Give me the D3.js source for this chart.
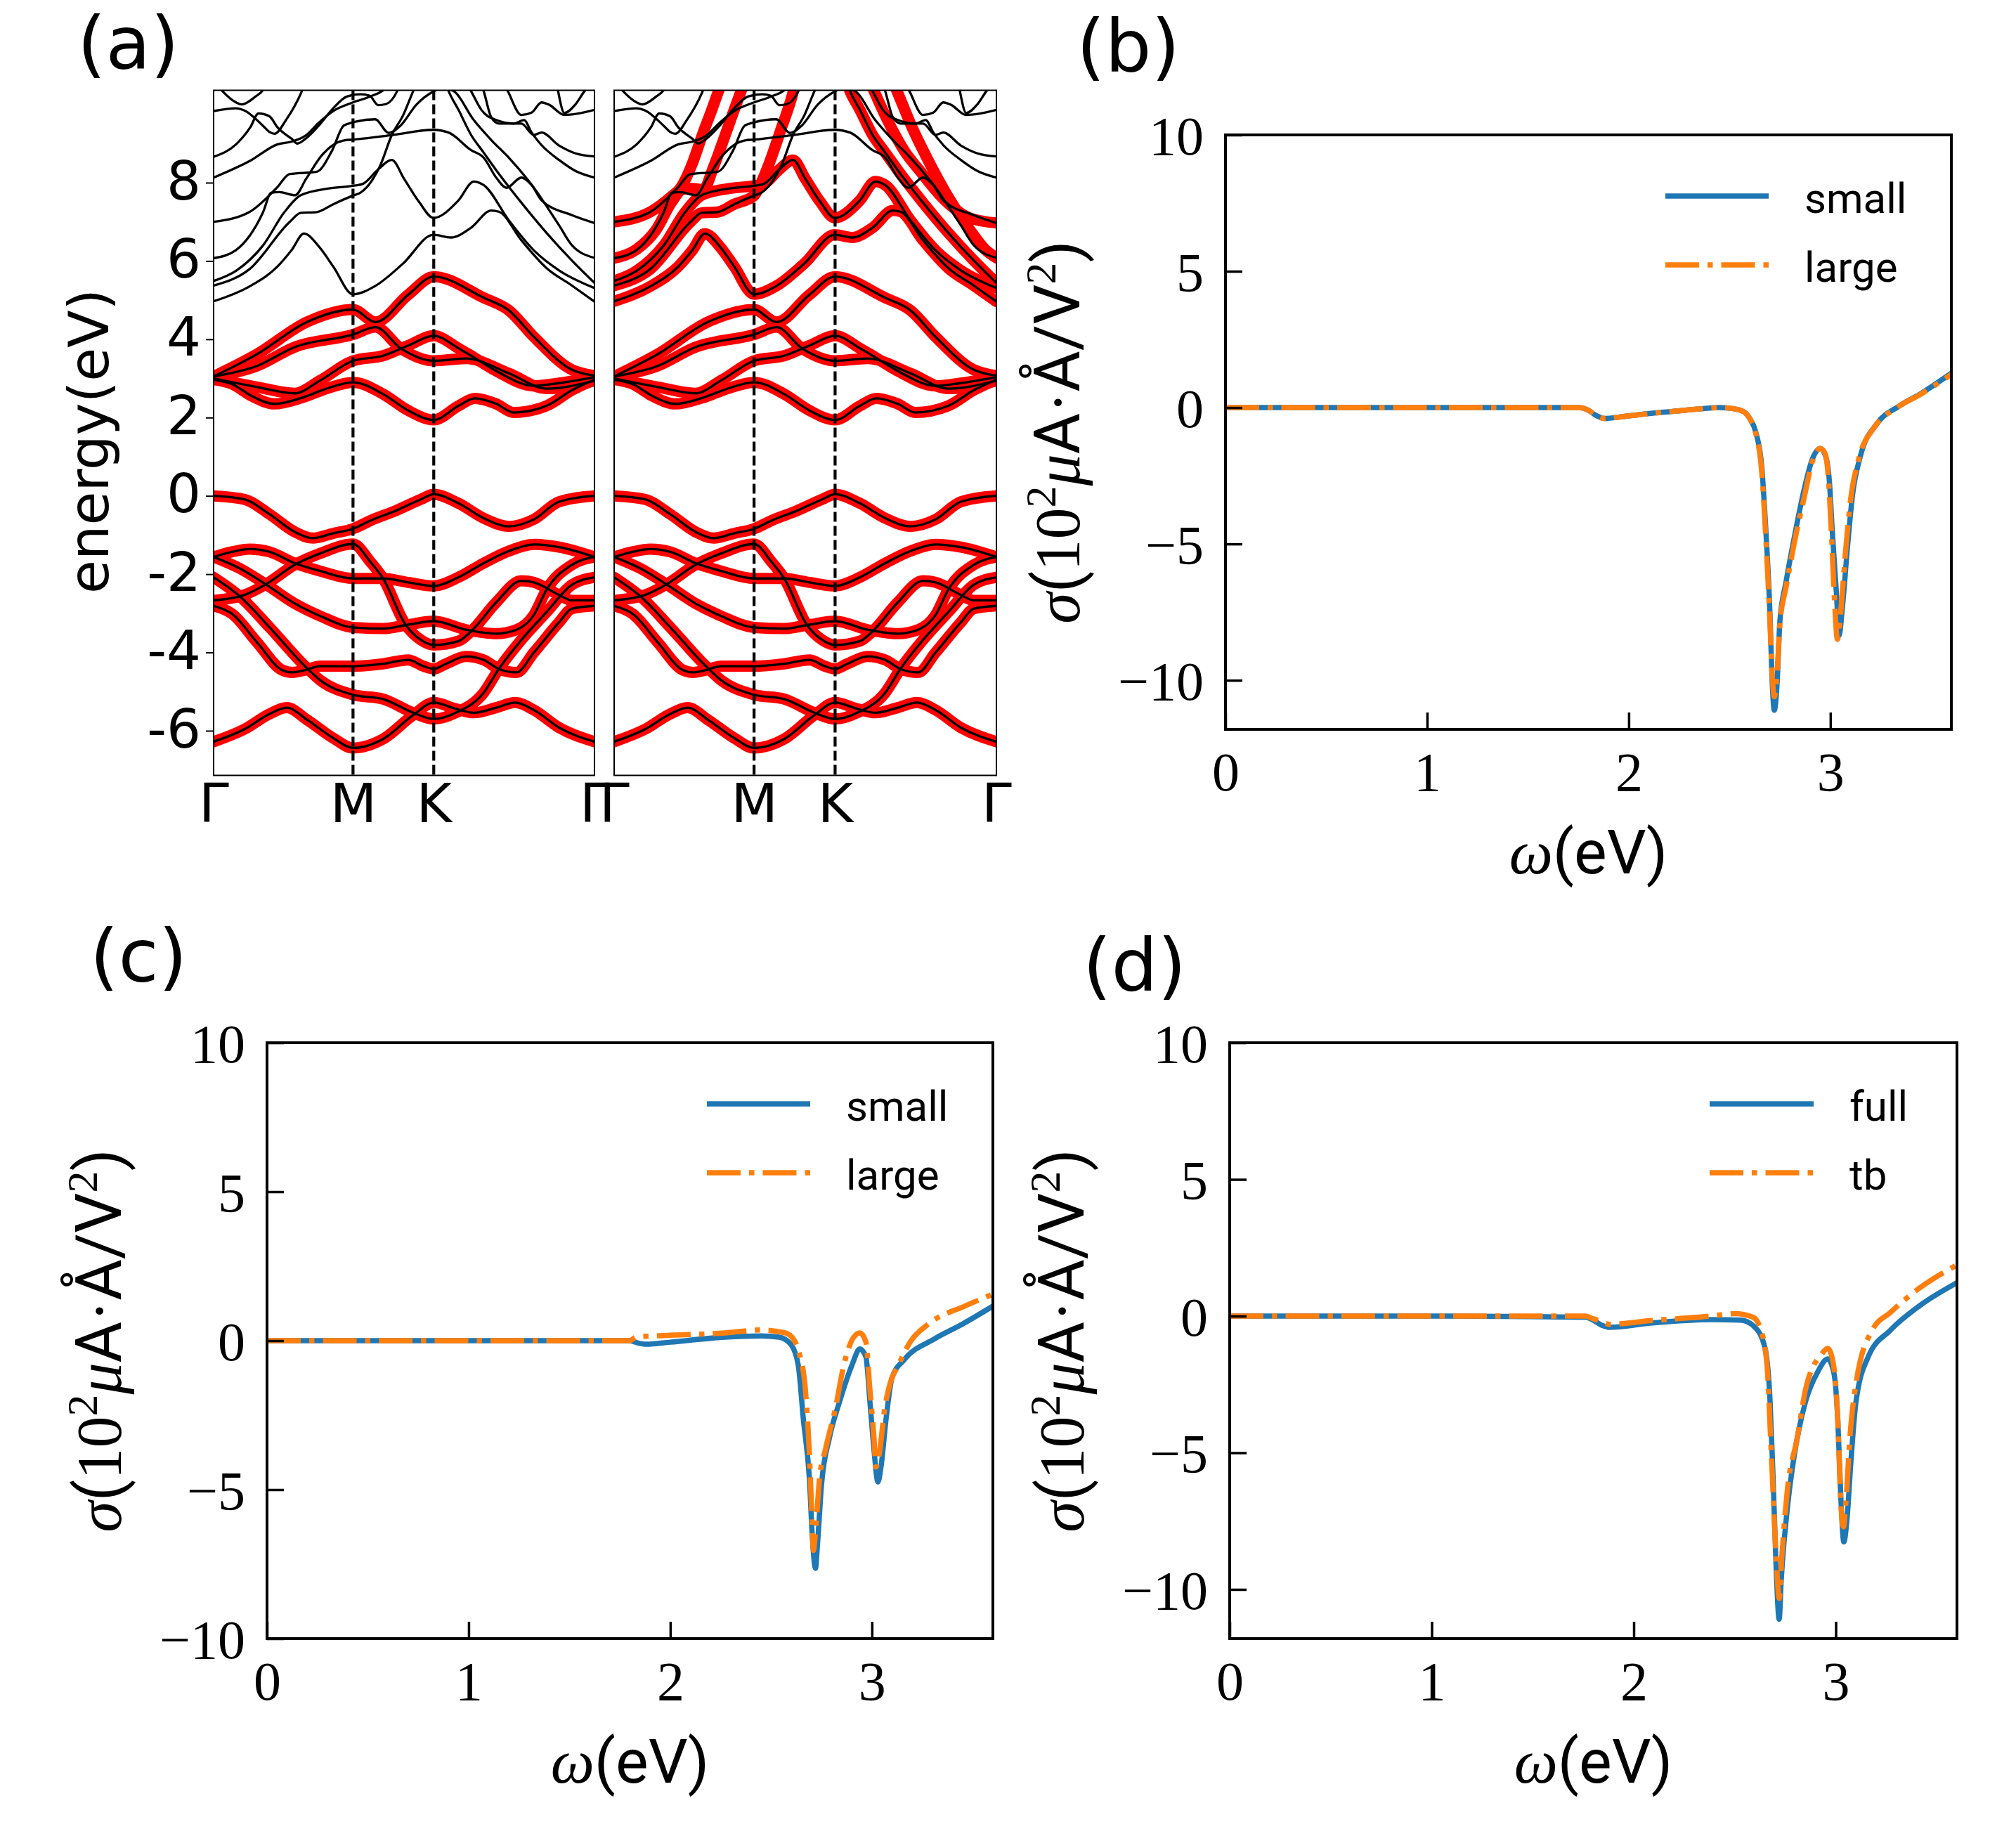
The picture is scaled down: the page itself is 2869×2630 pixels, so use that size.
<!DOCTYPE html>
<html><head><meta charset="utf-8">
<script src="https://cdn.jsdelivr.net/npm/d3@7"></script>
<style>body{margin:0;background:#fff}</style></head>
<body><svg id="c" width="2869" height="2630"></svg>
<script>
// ---------------- DATA ----------------
const kTicks=[0,0.366,0.578,1];
const kLabels=["Γ","M","K","Γ"];
const eTicks=[-6,-4,-2,0,2,4,6,8];
const eRange=[-7.14,10.36];

// valence bands (red + black)
const V1=[[0,0],[0.081,-0.09],[0.147,-0.47],[0.213,-0.92],[0.26,-1.08],[0.313,-0.96],[0.366,-0.84],[0.412,-0.63],[0.478,-0.38],[0.544,-0.09],[0.578,0.04],[0.643,-0.19],[0.709,-0.57],[0.775,-0.78],[0.841,-0.6],[0.907,-0.15],[1,0]];
const V2=[[0,-1.56],[0.048,-1.43],[0.095,-1.36],[0.147,-1.43],[0.213,-1.72],[0.28,-1.92],[0.366,-2.11],[0.445,-2.11],[0.511,-2.21],[0.578,-2.30],[0.643,-2.08],[0.709,-1.72],[0.775,-1.41],[0.841,-1.24],[0.907,-1.31],[1,-1.56]];
const V3=[[0,-2.67],[0.081,-2.53],[0.137,-2.26],[0.213,-1.76],[0.28,-1.47],[0.366,-1.23],[0.412,-1.69],[0.445,-2.11],[0.504,-3.29],[0.544,-3.68],[0.578,-3.81],[0.643,-3.71],[0.676,-3.46],[0.742,-2.72],[0.808,-2.17],[0.841,-2.21],[0.907,-2.53],[0.941,-2.67],[1,-2.67]];
const V4=[[0,-1.56],[0.068,-1.85],[0.137,-2.26],[0.213,-2.75],[0.28,-3.07],[0.366,-3.36],[0.445,-3.39],[0.511,-3.29],[0.578,-3.20],[0.663,-3.42],[0.742,-3.52],[0.795,-3.42],[0.841,-3.04],[0.874,-2.40],[0.941,-1.76],[1,-1.56]];
const V5=[[0,-2.81],[0.048,-3.01],[0.114,-3.74],[0.180,-4.45],[0.207,-4.51],[0.240,-4.45],[0.280,-4.35],[0.366,-4.35],[0.445,-4.29],[0.511,-4.19],[0.551,-4.35],[0.578,-4.42],[0.610,-4.29],[0.663,-4.10],[0.709,-4.19],[0.749,-4.42],[0.795,-4.51],[0.841,-4.0],[0.907,-3.23],[0.941,-2.88],[1,-2.81]];
const V6=[[0,-2.08],[0.068,-2.56],[0.147,-3.36],[0.240,-4.35],[0.280,-4.71],[0.366,-5.08],[0.445,-5.19],[0.524,-5.54],[0.578,-5.70],[0.636,-5.54],[0.709,-5.03],[0.749,-4.42],[0.808,-3.68],[0.874,-2.97],[0.941,-2.27],[1,-2.08]];
const V7=[[0,-6.28],[0.081,-5.96],[0.147,-5.57],[0.192,-5.41],[0.247,-5.73],[0.313,-6.18],[0.366,-6.44],[0.445,-6.21],[0.524,-5.60],[0.578,-5.28],[0.636,-5.44],[0.683,-5.54],[0.742,-5.41],[0.792,-5.28],[0.841,-5.47],[0.907,-5.92],[1,-6.28]];
// low conduction bands (red + black)
const C1=[[0,2.97],[0.05,2.85],[0.10,2.55],[0.16,2.35],[0.23,2.50],[0.30,2.75],[0.366,2.90],[0.445,2.60],[0.511,2.18],[0.578,1.94],[0.643,2.30],[0.686,2.49],[0.742,2.35],[0.788,2.13],[0.874,2.30],[0.941,2.70],[1,2.97]];
const C2=[[0,3.0],[0.114,2.78],[0.213,2.62],[0.280,2.95],[0.366,3.45],[0.445,3.58],[0.511,3.84],[0.578,4.09],[0.643,3.77],[0.676,3.58],[0.742,3.19],[0.841,2.81],[0.907,2.88],[1,3.03]];
const C3=[[0,3.05],[0.114,3.32],[0.213,3.80],[0.366,4.12],[0.425,4.31],[0.491,3.77],[0.578,3.45],[0.663,3.51],[0.775,3.13],[0.874,2.74],[1,2.94]];
const C4=[[0,3.05],[0.114,3.62],[0.247,4.45],[0.366,4.76],[0.425,4.44],[0.511,5.14],[0.578,5.60],[0.709,5.06],[0.775,4.74],[0.841,4.06],[0.941,3.22],[1,3.07]];
// higher bands of the full calculation (black only)
const D1=[[0,4.97],[0.096,5.36],[0.168,5.86],[0.205,6.28],[0.237,6.70],[0.278,6.35],[0.314,5.86],[0.366,5.15],[0.424,5.36],[0.497,5.93],[0.577,6.67],[0.623,6.60],[0.676,6.85],[0.729,7.29],[0.749,7.26],[0.808,6.53],[0.874,5.82],[0.941,5.37],[1,4.96]];
const D2=[[0,5.37],[0.094,5.79],[0.2,7.0],[0.229,7.23],[0.271,7.25],[0.314,7.45],[0.366,7.67],[0.385,7.74],[0.438,8.45],[0.468,9.22],[0.498,9.73],[0.524,10.34],[0.545,10.8],[0.60,10.8],[0.617,10.34],[0.643,9.86],[0.676,9.22],[0.709,8.77],[0.742,8.32],[0.808,7.49],[0.874,6.72],[0.941,6.01],[1,5.44]];
const D3=[[0,5.49],[0.059,5.75],[0.13,6.4],[0.186,7.25],[0.229,7.68],[0.30,7.85],[0.366,7.92],[0.392,7.97],[0.43,8.32],[0.468,8.58],[0.50,8.1],[0.54,7.5],[0.577,7.1],[0.643,7.55],[0.683,8.03],[0.709,7.94],[0.775,7.04],[0.841,6.27],[0.907,5.76],[1,5.31]];
const D4=[[0,6.07],[0.059,6.28],[0.13,7.25],[0.151,7.74],[0.172,7.76],[0.214,7.68],[0.243,8.1],[0.285,8.71],[0.342,9.08],[0.366,9.1],[0.47,9.22],[0.577,9.35],[0.617,9.28],[0.676,8.83],[0.709,8.64],[0.742,8.13],[0.769,7.87],[0.808,8.13],[0.835,7.94],[0.861,7.55],[0.941,7.17],[1,6.97]];
const D5=[[0,7.0],[0.094,7.25],[0.165,7.86],[0.2,8.22],[0.271,8.28],[0.31,8.8],[0.342,9.46],[0.366,9.54],[0.424,9.62],[0.46,9.27],[0.49,9.45],[0.533,10.0],[0.577,10.33],[0.60,10.42],[0.630,10.34],[0.683,9.60],[0.729,9.09],[0.775,8.64],[0.841,7.87],[0.907,6.91],[0.941,6.40],[1,6.08]];
const D6=[[0,8.13],[0.096,8.56],[0.168,8.98],[0.205,9.05],[0.241,9.2],[0.278,9.55],[0.314,9.83],[0.366,10.05],[0.41,10.2],[0.45,10.4],[0.48,10.8],[0.65,10.8],[0.676,10.34],[0.703,9.86],[0.742,9.60],[0.788,9.51],[0.815,9.60],[0.835,9.28],[0.861,8.96],[0.907,8.58],[0.95,8.3],[1,8.13]];
const D7=[[0,8.66],[0.059,8.98],[0.096,9.41],[0.118,9.77],[0.146,9.70],[0.168,9.41],[0.205,9.12],[0.22,9.0],[0.241,9.12],[0.278,9.48],[0.314,9.90],[0.35,10.2],[0.387,10.26],[0.41,10.22],[0.432,9.98],[0.453,10.01],[0.482,10.34],[0.50,10.8],[0.69,10.8],[0.709,10.34],[0.729,9.67],[0.749,9.51],[0.808,9.51],[0.841,9.22],[0.861,9.28],[0.907,8.95],[0.95,8.75],[1,8.67]];
const D8=[[0,9.83],[0.059,9.9],[0.08,9.85],[0.13,9.45],[0.146,9.3],[0.16,9.25],[0.19,9.6],[0.23,10.3],[0.25,10.8],[0.74,10.8],[0.769,10.4],[0.808,9.73],[0.835,9.79],[0.861,10.05],[0.881,9.99],[0.921,9.73],[1,9.86]];
const D9=[[0,10.6],[0.02,10.37],[0.059,10.05],[0.074,10.0],[0.11,10.2],[0.13,10.37],[0.15,10.8],[0.89,10.8],[0.921,9.78],[0.95,10.0],[0.974,10.34],[1,10.6]];
// extra bands of the large model (red only, right sub-panel)
const R1=[[0,7.0],[0.094,7.25],[0.15,7.65],[0.174,7.87],[0.205,8.5],[0.23,9.2],[0.255,9.85],[0.273,10.34],[0.29,10.8]];
const R2=[[0,6.07],[0.059,6.3],[0.11,6.8],[0.15,7.5],[0.18,7.83],[0.205,7.85],[0.233,7.82],[0.26,8.4],[0.29,9.2],[0.31,9.75],[0.332,10.34],[0.35,10.8]];
const R3=[[0,5.37],[0.094,5.79],[0.2,7.0],[0.229,7.23],[0.271,7.25],[0.314,7.45],[0.366,7.67],[0.38,7.9],[0.404,8.45],[0.436,9.35],[0.469,10.34],[0.48,10.8]];
const R4=[[0.60,10.8],[0.617,10.34],[0.643,9.86],[0.676,9.22],[0.709,8.77],[0.742,8.32],[0.808,7.49],[0.874,6.72],[0.941,6.01],[1,5.44]];
const R5=[[0.66,10.8],[0.68,10.34],[0.72,9.5],[0.76,8.8],[0.80,8.3],[0.86,7.6],[0.93,7.1],[1,6.97]];
const R6=[[0.72,10.8],[0.74,10.34],[0.78,9.4],[0.82,8.6],[0.87,7.7],[0.93,6.8],[0.97,6.3],[1,6.08]];

// conductivity spectra  [omega (eV), sigma]
const omegaRange=[0,3.6];
const sigXTicks=[0,1,2,3];
const sigYTicks=[-10,-5,0,5,10];
const bSmall=[[0,0],[0.5,0],[1.0,0],[1.5,0],[1.75,0],[1.8,-0.1],[1.84,-0.3],[1.88,-0.4],[1.95,-0.35],[2.05,-0.26],[2.2,-0.15],[2.35,-0.05],[2.45,0],[2.52,-0.04],[2.57,-0.15],[2.6,-0.4],[2.63,-0.9],[2.66,-2.2],[2.68,-4.5],[2.70,-7.5],[2.71,-9.8],[2.722,-11.1],[2.735,-10.2],[2.75,-7.8],[2.78,-6.4],[2.82,-4.8],[2.87,-3.0],[2.91,-1.9],[2.95,-1.5],[2.975,-1.75],[2.995,-2.7],[3.01,-4.6],[3.03,-6.8],[3.043,-8.35],[3.06,-7.3],[3.085,-5.1],[3.11,-3.2],[3.15,-1.75],[3.23,-0.6],[3.34,0.05],[3.45,0.52],[3.6,1.26]];
const bLarge=[[0,0],[0.5,0],[1.0,0],[1.5,0],[1.75,0],[1.8,-0.1],[1.84,-0.3],[1.88,-0.4],[1.95,-0.35],[2.05,-0.26],[2.2,-0.15],[2.35,-0.05],[2.45,0],[2.52,-0.04],[2.57,-0.15],[2.6,-0.4],[2.63,-0.95],[2.66,-2.4],[2.68,-4.8],[2.70,-7.8],[2.712,-9.9],[2.722,-10.6],[2.735,-9.8],[2.75,-7.9],[2.78,-6.6],[2.82,-5.0],[2.87,-3.3],[2.91,-2.0],[2.95,-1.5],[2.975,-1.7],[2.99,-2.6],[3.005,-4.6],[3.02,-7.0],[3.035,-8.5],[3.05,-7.6],[3.075,-5.3],[3.10,-3.4],[3.14,-1.9],[3.22,-0.7],[3.33,0.0],[3.45,0.5],[3.6,1.22]];
const cSmall=[[0,0],[1.0,0],[1.5,0],[1.8,0],[1.84,-0.08],[1.88,-0.12],[2.0,-0.05],[2.27,0.12],[2.45,0.16],[2.54,0.12],[2.6,-0.14],[2.635,-0.84],[2.66,-2.64],[2.69,-4.64],[2.705,-6.64],[2.72,-7.64],[2.73,-6.84],[2.75,-4.84],[2.79,-3.24],[2.84,-2.04],[2.90,-0.84],[2.94,-0.28],[2.97,-0.54],[2.99,-2.04],[3.01,-3.64],[3.03,-4.74],[3.045,-4.24],[3.07,-2.64],[3.10,-1.24],[3.16,-0.64],[3.31,0.06],[3.45,0.56],[3.6,1.16]];
const cLarge=[[0,0],[1.0,0],[1.5,0],[1.8,0],[1.83,0.12],[2.0,0.18],[2.27,0.26],[2.45,0.36],[2.57,0.26],[2.61,0.06],[2.64,-0.44],[2.67,-1.64],[2.69,-3.8],[2.70,-5.5],[2.71,-7.04],[2.72,-6.44],[2.74,-4.64],[2.77,-3.64],[2.82,-2.24],[2.86,-0.84],[2.91,0.12],[2.94,0.26],[2.97,-0.04],[2.99,-1.64],[3.01,-3.24],[3.02,-4.24],[3.04,-3.64],[3.06,-2.44],[3.09,-1.44],[3.13,-0.84],[3.19,-0.04],[3.28,0.56],[3.46,1.16],[3.6,1.56]];
const dFull=[[0,0],[1.0,0],[1.5,-0.02],[1.76,-0.04],[1.8,-0.15],[1.84,-0.33],[1.88,-0.41],[2.08,-0.26],[2.38,-0.13],[2.53,-0.15],[2.60,-0.41],[2.65,-1.18],[2.675,-3.14],[2.69,-5.97],[2.705,-9.24],[2.72,-11.09],[2.73,-9.67],[2.76,-7.06],[2.79,-5.32],[2.85,-3.14],[2.91,-2.05],[2.96,-1.57],[2.99,-2.05],[3.01,-3.79],[3.025,-6.62],[3.04,-8.26],[3.055,-7.49],[3.075,-5.32],[3.10,-3.14],[3.16,-1.5],[3.27,-0.52],[3.41,0.35],[3.6,1.22]];
const dTb=[[0,0],[1.0,0],[1.5,0],[1.76,0],[1.8,-0.1],[1.84,-0.2],[1.88,-0.3],[2.08,-0.17],[2.38,0],[2.5,0.09],[2.59,-0.04],[2.63,-0.52],[2.66,-1.83],[2.68,-4.88],[2.705,-8.8],[2.72,-10.33],[2.733,-8.8],[2.76,-6.4],[2.81,-4.44],[2.85,-2.7],[2.93,-1.39],[2.96,-1.18],[2.99,-1.83],[3.01,-3.79],[3.025,-6.84],[3.038,-7.71],[3.05,-6.84],[3.07,-4.44],[3.10,-2.48],[3.18,-0.52],[3.27,0.13],[3.41,1.0],[3.6,1.87]];
const legendBC=["small","large"];
const legendD=["full","tb"];
const panelLabels=["(a)","(b)","(c)","(d)"];

// ---------------- DRAWING ----------------
const svg=d3.select("#c");
const SANS="DejaVu Sans", SERIF="Liberation Serif", TXT="Roboto";
const BLUE="#1f77b4", ORANGE="#ff7f0e";

const valence=[V1,V2,V3,V4,V5,V6,V7];
const lowCond=[C1,C2,C3,C4];
const upper=[D1,D2,D3,D4,D5,D6,D7,D8,D9];
const blackAll=valence.concat(lowCond,upper);
const redLeft=valence.concat(lowCond);
const redRight=valence.concat(lowCond,[D1,D3,R1,R2,R3,R4,R5,R6]);

const bandTop=128.5, bandBot=1103.5;
function bandPanel(x0,x1,reds,blacks,showY,id){
  const x=d3.scaleLinear([0,1],[x0,x1]);
  const y=d3.scaleLinear(eRange,[bandBot,bandTop]);
  svg.append("clipPath").attr("id",id).append("rect")
    .attr("x",x0).attr("y",bandTop).attr("width",x1-x0).attr("height",bandBot-bandTop);
  const g=svg.append("g").attr("clip-path",`url(#${id})`);
  const line=d3.line().x(d=>x(d[0])).y(d=>y(d[1])).curve(d3.curveMonotoneX);
  g.selectAll("path.r").data(reds).join("path").attr("class","r").attr("d",line)
    .attr("fill","none").attr("stroke","#ff0000").attr("stroke-width",16)
    .attr("stroke-linejoin","round").attr("stroke-linecap","round");
  g.selectAll("path.b").data(blacks).join("path").attr("class","b").attr("d",line)
    .attr("fill","none").attr("stroke","#000").attr("stroke-width",3.3).attr("stroke-linejoin","round");
  g.selectAll("line.v").data(kTicks.slice(1,3)).join("line").attr("class","v")
    .attr("x1",d=>x(d)).attr("x2",d=>x(d)).attr("y1",bandTop).attr("y2",bandBot)
    .attr("stroke","#000").attr("stroke-width",4.2).attr("stroke-dasharray","14,6");
  svg.append("rect").attr("x",x0).attr("y",bandTop).attr("width",x1-x0).attr("height",bandBot-bandTop)
    .attr("fill","none").attr("stroke","#000").attr("stroke-width",2);
  const xa=svg.append("g").attr("transform",`translate(0,${bandBot})`)
    .call(d3.axisBottom(x).tickValues(kTicks).tickFormat((d,i)=>kLabels[i]).tickSize(0).tickPadding(12));
  xa.select(".domain").remove();
  xa.selectAll("text").attr("font-family",SANS).attr("font-size",77).attr("fill","#000");
  if(showY){
    const ya=svg.append("g").attr("transform",`translate(${x0},0)`)
      .call(d3.axisLeft(y).tickValues(eTicks).tickFormat(d=>String(d)).tickSize(11).tickPadding(7));
    ya.select(".domain").remove();
    ya.selectAll("line").attr("stroke","#000").attr("stroke-width",2);
    ya.selectAll("text").attr("font-family",SANS).attr("font-size",77).attr("fill","#000").attr("dy","0.3em");
  }
}
bandPanel(304,846,redLeft,blackAll,true,"clipA1");
bandPanel(874,1418,redRight,blackAll,false,"clipA2");
svg.append("text").attr("transform","translate(154,628) rotate(-90)").attr("text-anchor","middle")
  .attr("font-family",SANS).attr("font-size",78).text("energy(eV)");

function sigmaPanel(c){
  const x=d3.scaleLinear(omegaRange,[c.x0,c.x1]);
  const y=d3.scaleLinear([c.ymin,10],[c.y1,c.y0]);
  svg.append("clipPath").attr("id",c.id).append("rect")
    .attr("x",c.x0).attr("y",c.y0).attr("width",c.x1-c.x0).attr("height",c.y1-c.y0);
  const g=svg.append("g").attr("clip-path",`url(#${c.id})`);
  const line=d3.line().x(d=>x(d[0])).y(d=>y(d[1])).curve(d3.curveMonotoneX);
  g.append("path").datum(c.blue).attr("d",line).attr("fill","none").attr("stroke",BLUE).attr("stroke-width",7.5);
  g.append("path").datum(c.orange).attr("d",line).attr("fill","none").attr("stroke",ORANGE)
    .attr("stroke-width",7.5).attr("stroke-dasharray","48,12,7.5,12");
  const fmt=d=>d<0?"\u2212"+Math.abs(d):String(d);
  const ya=svg.append("g").attr("transform",`translate(${c.x0},0)`)
    .call(d3.axisLeft(y).tickValues(sigYTicks).tickFormat(fmt).tickSizeInner(-24).tickSizeOuter(0).tickPadding(31));
  ya.select(".domain").remove();
  ya.selectAll("line").attr("stroke","#000").attr("stroke-width",3.5);
  ya.selectAll("text").attr("font-family",SERIF).attr("font-size",78).attr("fill","#000").attr("dy","0.35em");
  const xa=svg.append("g").attr("transform",`translate(0,${c.y1})`)
    .call(d3.axisBottom(x).tickValues(sigXTicks).tickFormat(fmt).tickSizeInner(-24).tickSizeOuter(0).tickPadding(32));
  xa.select(".domain").remove();
  xa.selectAll("line").attr("stroke","#000").attr("stroke-width",3.5);
  xa.selectAll("text").attr("font-family",SERIF).attr("font-size",78).attr("fill","#000");
  svg.append("rect").attr("x",c.x0).attr("y",c.y0).attr("width",c.x1-c.x0).attr("height",c.y1-c.y0)
    .attr("fill","none").attr("stroke","#000").attr("stroke-width",4);
  // x label
  const xl=svg.append("text").attr("x",(c.x0+c.x1)/2).attr("y",c.y1+205).attr("text-anchor","middle").attr("font-size",88);
  xl.append("tspan").attr("font-family",SERIF).attr("font-style","italic").text("ω");
  xl.append("tspan").attr("font-family",TXT).text("(eV)");
  // y label
  const yl=svg.append("text").attr("transform",`translate(${c.x0-208},${(c.y0+c.y1)/2}) rotate(-90)`)
    .attr("text-anchor","middle").attr("font-size",90);
  yl.append("tspan").attr("font-family",SERIF).attr("font-style","italic").text("σ");
  yl.append("tspan").attr("font-family",TXT).text("(");
  yl.append("tspan").attr("font-family",SERIF).text("10");
  yl.append("tspan").attr("font-family",SERIF).attr("font-size",62).attr("dy",-34).text("2");
  yl.append("tspan").attr("font-family",SERIF).attr("font-style","italic").attr("dy",34).text("μ");
  yl.append("tspan").attr("font-family",TXT).text("A");
  yl.append("tspan").attr("font-family",SERIF).text("·");
  yl.append("tspan").attr("font-family",TXT).text("Å/V");
  yl.append("tspan").attr("font-family",SERIF).attr("font-size",62).attr("dy",-34).text("2");
  yl.append("tspan").attr("font-family",TXT).attr("dy",34).text(")");
  // legend
  const rows=[{lab:c.labels[0],col:BLUE,dash:null},{lab:c.labels[1],col:ORANGE,dash:"48,12,7.5,12"}];
  rows.forEach((r,i)=>{
    const yy=c.y0+87+i*98;
    const l=svg.append("line").attr("x1",c.x1+c.lx[0]).attr("x2",c.x1+c.lx[1]).attr("y1",yy).attr("y2",yy)
      .attr("stroke",r.col).attr("stroke-width",7.5);
    if(r.dash) l.attr("stroke-dasharray",r.dash);
    svg.append("text").attr("x",c.x1+c.lx[2]).attr("y",yy+24).attr("font-family",TXT).attr("font-size",60).text(r.lab);
  });
}
sigmaPanel({id:"clipB",x0:1744,x1:2777,y0:192,y1:1038,ymin:-11.8,blue:bSmall,orange:bLarge,labels:legendBC,lx:[-407,-260,-209]});
sigmaPanel({id:"clipC",x0:380,x1:1413,y0:1484,y1:2332,ymin:-10,blue:cSmall,orange:cLarge,labels:legendBC,lx:[-407,-260,-209]});
sigmaPanel({id:"clipD",x0:1750,x1:2785,y0:1484,y1:2332,ymin:-11.8,blue:dFull,orange:dTb,labels:legendD,lx:[-352,-204,-153]});

// panel letters
const letterPos=[[110,98],[1532,102],[128,1397],[1541,1410]];
panelLabels.forEach((t,i)=>svg.append("text").attr("x",letterPos[i][0]).attr("y",letterPos[i][1])
  .attr("font-family",SANS).attr("font-size",104).text(t));
</script></body></html>
